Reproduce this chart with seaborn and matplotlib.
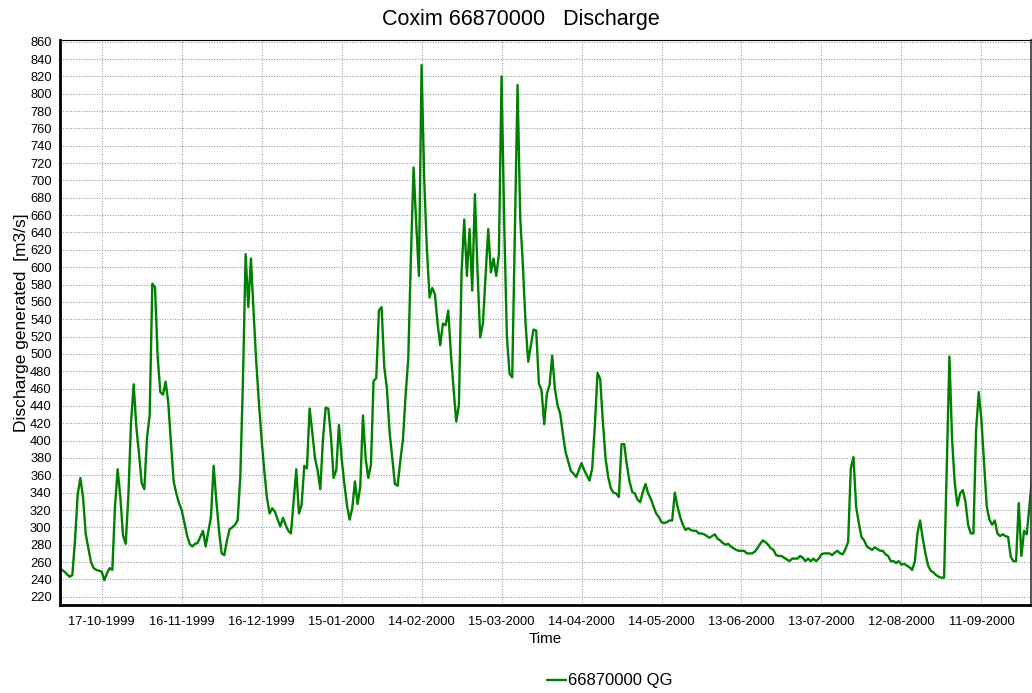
import numpy as np
import pandas as pd
import matplotlib
matplotlib.use("Agg")
import matplotlib.pyplot as plt
import matplotlib.dates as mdates
from matplotlib.ticker import MultipleLocator, FixedLocator
import seaborn as sns

title = "Coxim 66870000   Discharge"
series_name = "66870000 QG"
x_label = "Time"
y_label = "Discharge generated  [m3/s]"
start_date = "1999-10-01"

# daily discharge values [m3/s], month by month
oct_1999 = [253, 251, 249, 246, 243, 245, 285, 338, 357, 335, 293, 276, 260, 253, 251, 250,
            249, 239, 247, 253, 251, 324, 367, 335, 291, 281, 335, 420, 465, 416, 385]
nov_1999 = [351, 344, 403, 429, 581, 577, 497, 456, 453, 468, 443, 397, 353, 339, 328, 320,
            306, 291, 281, 278, 281, 282, 289, 296, 278, 295, 312, 371, 331, 297]
dec_1999 = [270, 268, 285, 298, 300, 303, 308, 358, 470, 615, 554, 610, 547, 490, 443, 401,
            365, 334, 316, 322, 318, 309, 301, 311, 303, 296, 293, 330, 367, 316, 326]
jan_2000 = [371, 368, 437, 410, 380, 366, 344, 401, 438, 437, 405, 357, 366, 418, 380, 351,
            326, 309, 322, 353, 327, 347, 429, 380, 357, 372, 469, 472, 550, 554, 485]
feb_2000 = [460, 410, 380, 350, 348, 376, 401, 452, 494, 611, 715, 650, 590, 833, 700, 620,
            565, 576, 569, 535, 510, 535, 533, 550, 500, 460, 422, 441, 594]
mar_2000 = [655, 590, 644, 573, 684, 594, 519, 535, 590, 644, 594, 610, 590, 615, 820, 650,
            520, 477, 473, 640, 810, 657, 602, 535, 491, 510, 528, 527, 466, 458, 419]
apr_2000 = [454, 464, 498, 460, 441, 431, 408, 387, 376, 365, 362, 358, 366, 374, 366, 360,
            354, 368, 418, 478, 471, 422, 380, 358, 345, 340, 339, 335, 396, 396]
may_2000 = [372, 353, 341, 339, 332, 329, 341, 350, 339, 333, 324, 316, 312, 306, 305, 306,
            308, 308, 340, 324, 312, 303, 297, 299, 297, 296, 296, 293, 293, 292, 290]
jun_2000 = [288, 290, 292, 287, 285, 282, 280, 281, 278, 276, 274, 273, 273, 273, 270, 270,
            270, 272, 276, 281, 285, 283, 280, 276, 274, 268, 267, 267, 265, 263]
jul_2000 = [261, 264, 264, 264, 267, 265, 261, 264, 261, 264, 261, 264, 269, 270, 270, 270,
            268, 271, 273, 270, 269, 275, 283, 368, 381, 324, 305, 289, 285, 278, 276]
aug_2000 = [274, 277, 275, 273, 273, 269, 267, 261, 261, 259, 261, 257, 258, 256, 254, 251,
            260, 293, 308, 287, 270, 256, 250, 248, 245, 243, 242, 242, 370, 497, 401]
sep_2000 = [351, 325, 339, 343, 330, 303, 293, 293, 412, 456, 424, 374, 324, 309, 303, 308,
            293, 290, 292, 290, 289, 266, 261, 261, 328, 267, 296, 292, 324, 358]

tick_labels = ["17-10-1999", "16-11-1999", "16-12-1999", "15-01-2000", "14-02-2000",
               "15-03-2000", "14-04-2000", "14-05-2000", "13-06-2000", "13-07-2000",
               "12-08-2000", "11-09-2000"]

values = (oct_1999 + nov_1999 + dec_1999 + jan_2000 + feb_2000 + mar_2000 +
          apr_2000 + may_2000 + jun_2000 + jul_2000 + aug_2000 + sep_2000)
dates = pd.date_range(start_date, periods=len(values), freq="D")
df = pd.DataFrame({"Time": dates, "Q": values, "series": series_name})

sns.set_style("white")
plt.rcParams['font.family'] = ['Liberation Sans', 'DejaVu Sans']
plt.rcParams['text.color'] = 'black'
plt.rcParams['axes.labelcolor'] = 'black'

fig = plt.figure(figsize=(10.32, 6.93), dpi=100)
W, H = 1032, 693
ax = fig.add_axes([60 / W, 1 - 605 / H, 971 / W, (605 - 39.5) / H])

sns.lineplot(data=df, x="Time", y="Q", hue="series", palette=["#008000"],
             linewidth=1.7, ax=ax, legend=False)

# x axis
major = pd.to_datetime(tick_labels, format="%d-%m-%Y")
major_num = mdates.date2num(major)
ax.xaxis.set_major_locator(FixedLocator(major_num))
ax.xaxis.set_major_formatter(mdates.DateFormatter("%d-%m-%Y"))
minor_num = major_num[0] + 7.5 * np.arange(-3, 48)
ax.xaxis.set_minor_locator(FixedLocator(minor_num))
t0 = mdates.date2num(pd.Timestamp(start_date))
ax.set_xlim(t0 + 0.37, t0 + 364.6)

# y axis
ax.set_ylim(210.5, 862.5)
ax.yaxis.set_major_locator(MultipleLocator(20))
ax.yaxis.set_minor_locator(MultipleLocator(4))

ax.grid(True, which="major", linestyle=(0, (1, 1.5)), color="#9a9a9a", linewidth=0.75)
ax.tick_params(axis="both", which="major", direction="out", length=4, width=1,
               labelsize=9.3, colors="black", pad=2)
ax.tick_params(axis="both", which="minor", direction="out", length=2.5, width=0.8,
               colors="#555555")
ax.tick_params(axis="x", which="major", pad=4)

for side, lw, col in [("left", 2.0, "black"), ("bottom", 2.0, "black"),
                      ("top", 0.8, "black"), ("right", 1.2, "#333333")]:
    ax.spines[side].set_visible(True)
    ax.spines[side].set_color(col)
    ax.spines[side].set_linewidth(lw)

ax.set_xlabel(x_label, fontsize=11, labelpad=3, color="black")
ax.set_ylabel(y_label, fontsize=12.5, labelpad=1, color="black")

fig.text(0.505, 1 - 20 / H, title, ha="center", va="center", fontsize=15.5, color="black")

handle = ax.get_lines()[0]
fig.legend(handles=[handle], labels=[series_name], loc="center",
           bbox_to_anchor=(0.591, 1 - 681 / H), frameon=False, fontsize=12,
           handlelength=1.1, handletextpad=0.15, labelcolor="black")

fig.savefig("out.png", dpi=100)
